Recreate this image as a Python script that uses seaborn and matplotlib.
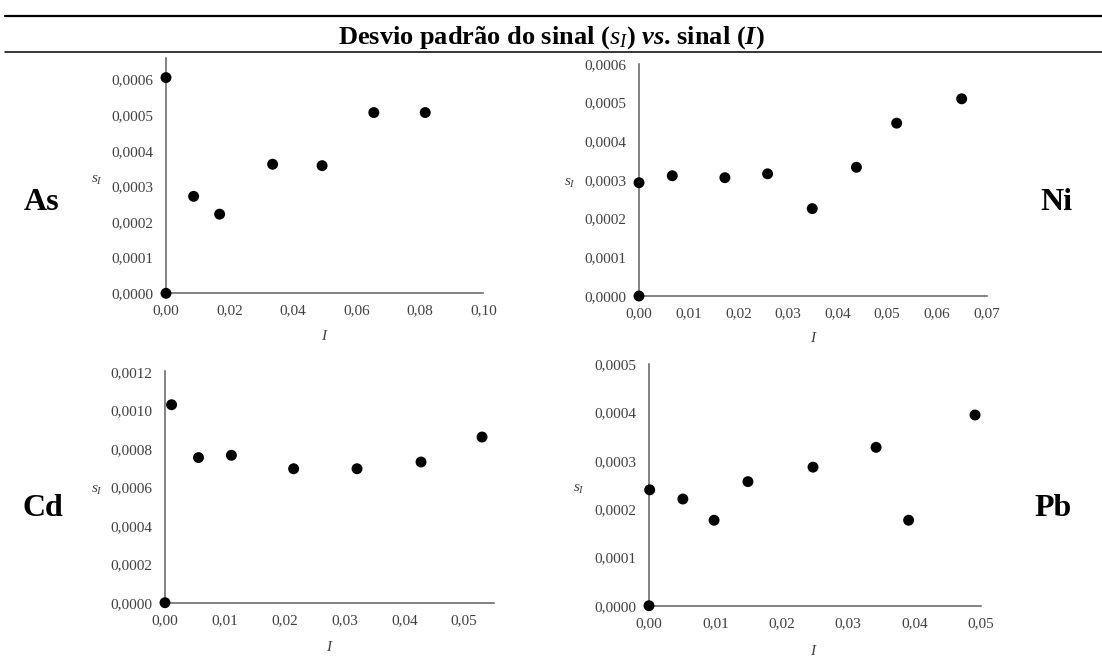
import numpy as np
import pandas as pd
import seaborn as sns
import matplotlib
matplotlib.use("Agg")
import matplotlib.pyplot as plt
from matplotlib.ticker import FuncFormatter, MultipleLocator
from matplotlib.lines import Line2D

# ---- data ----
as_I = [0.0, 0.0, 0.0087, 0.0169, 0.0336, 0.0492, 0.0655, 0.0817]
as_s = [0.0, 0.000605, 0.000272, 0.000222, 0.000362, 0.000358, 0.000507, 0.000507]

ni_I = [0.0, 0.0, 0.0067, 0.0173, 0.0259, 0.0349, 0.0438, 0.0519, 0.0650]
ni_s = [0.0, 0.000293, 0.000311, 0.000306, 0.000316, 0.000226, 0.000333, 0.000447, 0.000510]

cd_I = [0.0, 0.0011, 0.0056, 0.0111, 0.0215, 0.0321, 0.0428, 0.0530]
cd_s = [0.0, 0.00103, 0.000755, 0.000767, 0.000697, 0.000697, 0.000732, 0.000862]

pb_I = [0.0, 0.0001, 0.0051, 0.0098, 0.0149, 0.0247, 0.0342, 0.0391, 0.0491]
pb_s = [0.0, 0.000240, 0.000221, 0.000177, 0.000257, 0.000287, 0.000328, 0.000177, 0.000395]

elements = ["As", "Ni", "Cd", "Pb"]
title = r"Desvio padrão do sinal ($\mathit{s_I}$) $\mathbfit{vs}$. sinal ($\mathbfit{I}$)"

sns.set_theme(style="white")
plt.rcParams['font.family'] = ['Liberation Serif', 'DejaVu Serif']
plt.rcParams['mathtext.fontset'] = 'custom'
plt.rcParams['mathtext.rm'] = 'Liberation Serif'
plt.rcParams['mathtext.it'] = 'Liberation Serif:italic'
plt.rcParams['mathtext.bf'] = 'Liberation Serif:bold'
plt.rcParams['mathtext.bfit'] = 'Liberation Serif:italic:bold'

W, H = 1102, 657
fig = plt.figure(figsize=(W / 100, H / 100), dpi=100)
fig.patch.set_facecolor("white")

def fx(px):
    return px / W

def fy(py):
    return 1 - py / H

# horizontal rules and title
fig.add_artist(Line2D([fx(5), 1.0], [fy(16), fy(16)], color="black", lw=1.6))
fig.add_artist(Line2D([fx(5), 1.0], [fy(51.5), fy(51.5)], color="black", lw=1.1))
fig.text(0.5, fy(44), title, ha="center", va="baseline", fontsize=19,
         fontweight="bold", color="black")

TICK_COLOR = "#404040"
SPINE_COLOR = "#606060"

panels = [
    # data, axes px (left, right, top, bottom), xlim, ylim, xstep, ystep, element label pos, ylabel pos, xlabel pos
    (as_I, as_s, (166, 483.3, 58, 293.3), (0, 0.10), (0, 0.00066), 0.02, 0.0001, (42, 202), (97, 180), (325, 336)),
    (ni_I, ni_s, (639, 987, 64, 296), (0, 0.0701), (0, 0.0006), 0.01, 0.0001, (1056, 202), (570, 183), (814, 338)),
    (cd_I, cd_s, (165, 494, 370.7, 602.7), (0, 0.055), (0, 0.001207), 0.01, 0.0002, (43, 509), (97, 490), (330, 647)),
    (pb_I, pb_s, (649, 981, 364.3, 605.7), (0, 0.05), (0, 0.0005), 0.01, 0.0001, (1053, 509), (579, 489), (814, 651)),
]

for name, (xs, ys, (l, r, t, b), xlim, ylim, xstep, ystep, epos, ylpos, xlpos) in zip(elements, panels):
    ax = fig.add_axes([fx(l), fy(b), fx(r - l), (b - t) / H])
    df = pd.DataFrame({"I": xs, "s": ys})
    sns.scatterplot(data=df, x="I", y="s", ax=ax, color="black", s=62,
                    edgecolor="none", linewidth=0, clip_on=False, zorder=5)
    ax.set_xlim(*xlim)
    ax.set_ylim(*ylim)
    ax.xaxis.set_major_locator(MultipleLocator(xstep))
    ax.yaxis.set_major_locator(MultipleLocator(ystep))
    ax.xaxis.set_major_formatter(FuncFormatter(lambda v, p: f"{v:.2f}".replace(".", ",")))
    ax.yaxis.set_major_formatter(FuncFormatter(lambda v, p: f"{v:.4f}".replace(".", ",")))
    ax.set_xlabel("")
    ax.set_ylabel("")
    for side in ["top", "right"]:
        ax.spines[side].set_visible(False)
    for side in ["left", "bottom"]:
        ax.spines[side].set_color(SPINE_COLOR)
        ax.spines[side].set_linewidth(1.1)
    ax.tick_params(axis="both", length=0, labelsize=11, labelcolor=TICK_COLOR)
    ax.tick_params(axis="y", pad=9)
    ax.tick_params(axis="x", pad=8)
    ax.set_facecolor("none")
    ax.grid(False)
    # element label
    fig.text(fx(epos[0]), fy(epos[1]), name, ha="center", va="center",
             fontsize=23, fontweight="bold", color="black")
    # axis labels
    fig.text(fx(ylpos[0]), fy(ylpos[1]), r"$s_I$", ha="center", va="center",
             fontsize=11, color=TICK_COLOR)
    fig.text(fx(xlpos[0]), fy(xlpos[1]), r"$I$", ha="center", va="center",
             fontsize=11, color=TICK_COLOR)

fig.savefig("out.png", dpi=100, facecolor="white")
